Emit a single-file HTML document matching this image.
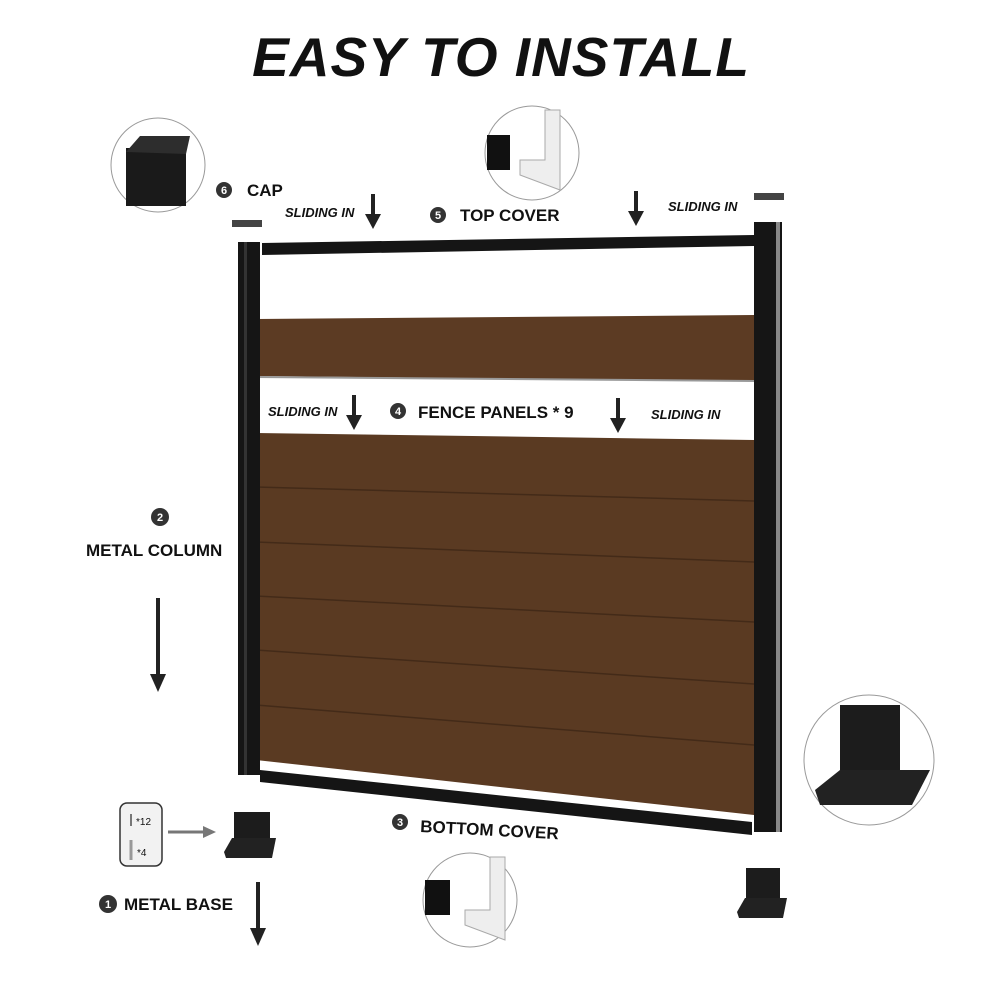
<!DOCTYPE html>
<html><head><meta charset="utf-8"><style>
html,body{margin:0;padding:0;background:#fff;}
svg{display:block;}
text{font-family:"Liberation Sans",sans-serif;font-weight:bold;fill:#111;}
.si{font-style:italic;font-size:13px;}
.lb{font-size:17px;}
</style></head><body>
<svg width="1000" height="1000" viewBox="0 0 1000 1000" xmlns="http://www.w3.org/2000/svg">
<text x="501" y="76" text-anchor="middle" style="font-size:55px;font-style:italic;font-weight:900;letter-spacing:1px">EASY TO INSTALL</text>

<!-- wood panels -->
<polygon points="256,319 754,315 754,381 256,376" fill="#5c3b23"/>
<polygon points="256,433 754,440 754,815 256,760" fill="#5a3a22"/>
<g stroke="#3e2716" stroke-width="1.5" opacity="0.8">
<line x1="256" y1="487" x2="754" y2="501"/>
<line x1="256" y1="542" x2="754" y2="562"/>
<line x1="256" y1="596" x2="754" y2="622"/>
<line x1="256" y1="650" x2="754" y2="684"/>
<line x1="256" y1="705" x2="754" y2="745"/>
</g>
<line x1="256" y1="377" x2="754" y2="381" stroke="#999" stroke-width="2"/>

<!-- columns -->
<rect x="238" y="242" width="22" height="533" fill="#151515"/>
<rect x="244" y="242" width="3" height="533" fill="#333"/>
<rect x="754" y="222" width="28" height="610" fill="#151515"/>
<rect x="776" y="222" width="4" height="610" fill="#888"/>
<!-- caps -->
<rect x="232" y="220" width="30" height="7" fill="#444"/>
<rect x="754" y="193" width="30" height="7" fill="#444"/>
<!-- top cover -->
<polygon points="262,243 754,235 754,246 262,255" fill="#151515"/>
<!-- bottom cover -->
<polygon points="260,770 752,822 752,835 260,782" fill="#151515"/>

<!-- circles -->
<circle cx="158" cy="165" r="47" fill="#fff" stroke="#999"/>
<rect x="126" y="148" width="60" height="58" fill="#1a1a1a"/>
<polygon points="126,152 140,136 190,136 186,154" fill="#2d2d2d"/>
<circle cx="532" cy="153" r="47" fill="#fff" stroke="#999"/>
<path d="M487,135 L510,135 L510,170 L487,170 Z" fill="#111"/>
<path d="M545,110 L560,110 L560,190 L520,175 L520,160 L545,160 Z" fill="#eee" stroke="#aaa"/>
<circle cx="470" cy="900" r="47" fill="#fff" stroke="#999"/>
<path d="M425,880 L450,880 L450,915 L425,915 Z" fill="#111"/>
<path d="M490,857 L505,857 L505,940 L465,925 L465,910 L490,910 Z" fill="#eee" stroke="#aaa"/>
<circle cx="869" cy="760" r="65" fill="#fff" stroke="#999"/>
<rect x="840" y="705" width="60" height="80" fill="#1c1c1c"/>
<polygon points="815,790 840,770 930,770 912,805 820,805" fill="#222"/>

<!-- brackets -->
<rect x="234" y="812" width="36" height="30" fill="#1c1c1c"/>
<polygon points="224,852 232,838 276,838 272,858 226,858" fill="#222"/>
<rect x="746" y="868" width="34" height="30" fill="#1c1c1c"/>
<polygon points="737,912 745,898 787,898 783,918 739,918" fill="#222"/>

<!-- screw box -->
<rect x="120" y="803" width="42" height="63" rx="7" fill="#f2f2f2" stroke="#333" stroke-width="1.5"/>
<line x1="131" y1="814" x2="131" y2="826" stroke="#777" stroke-width="2"/>
<line x1="131" y1="840" x2="131" y2="860" stroke="#999" stroke-width="3"/>
<text x="136" y="825" style="font-size:10px;font-weight:normal">*12</text>
<text x="137" y="856" style="font-size:10px;font-weight:normal">*4</text>
<line x1="168" y1="832" x2="205" y2="832" stroke="#777" stroke-width="3"/>
<polygon points="203,826 216,832 203,838" fill="#777"/>

<!-- arrows -->
<g fill="#222">
<rect x="371" y="194" width="4" height="22"/><polygon points="365,214 381,214 373,229"/>
<rect x="634" y="191" width="4" height="22"/><polygon points="628,211 644,211 636,226"/>
<rect x="352" y="395" width="4" height="22"/><polygon points="346,415 362,415 354,430"/>
<rect x="616" y="398" width="4" height="22"/><polygon points="610,418 626,418 618,433"/>
<rect x="156" y="598" width="4" height="78"/><polygon points="150,674 166,674 158,692"/>
<rect x="256" y="882" width="4" height="48"/><polygon points="250,928 266,928 258,946"/>
</g>

<!-- labels -->
<circle cx="224" cy="190" r="8" fill="#333"/><text x="224" y="194" text-anchor="middle" style="font-size:11px;fill:#fff">6</text>
<text x="247" y="196" class="lb">CAP</text>
<text x="285" y="217" class="si">SLIDING IN</text>
<circle cx="438" cy="215" r="8" fill="#333"/><text x="438" y="219" text-anchor="middle" style="font-size:11px;fill:#fff">5</text>
<text x="460" y="221" class="lb">TOP COVER</text>
<text x="668" y="211" class="si">SLIDING IN</text>

<text x="268" y="416" class="si">SLIDING IN</text>
<circle cx="398" cy="411" r="8" fill="#333"/><text x="398" y="415" text-anchor="middle" style="font-size:11px;fill:#fff">4</text>
<text x="418" y="418" class="lb">FENCE PANELS * 9</text>
<text x="651" y="419" class="si">SLIDING IN</text>

<circle cx="160" cy="517" r="9" fill="#333"/><text x="160" y="521" text-anchor="middle" style="font-size:11px;fill:#fff">2</text>
<text x="86" y="556" class="lb">METAL COLUMN</text>

<circle cx="400" cy="822" r="8" fill="#333"/><text x="400" y="826" text-anchor="middle" style="font-size:11px;fill:#fff">3</text>
<text x="420" y="832" class="lb" transform="rotate(3 420 832)">BOTTOM COVER</text>

<circle cx="108" cy="904" r="9" fill="#333"/><text x="108" y="908" text-anchor="middle" style="font-size:11px;fill:#fff">1</text>
<text x="124" y="910" class="lb">METAL BASE</text>
</svg>
</body></html>
